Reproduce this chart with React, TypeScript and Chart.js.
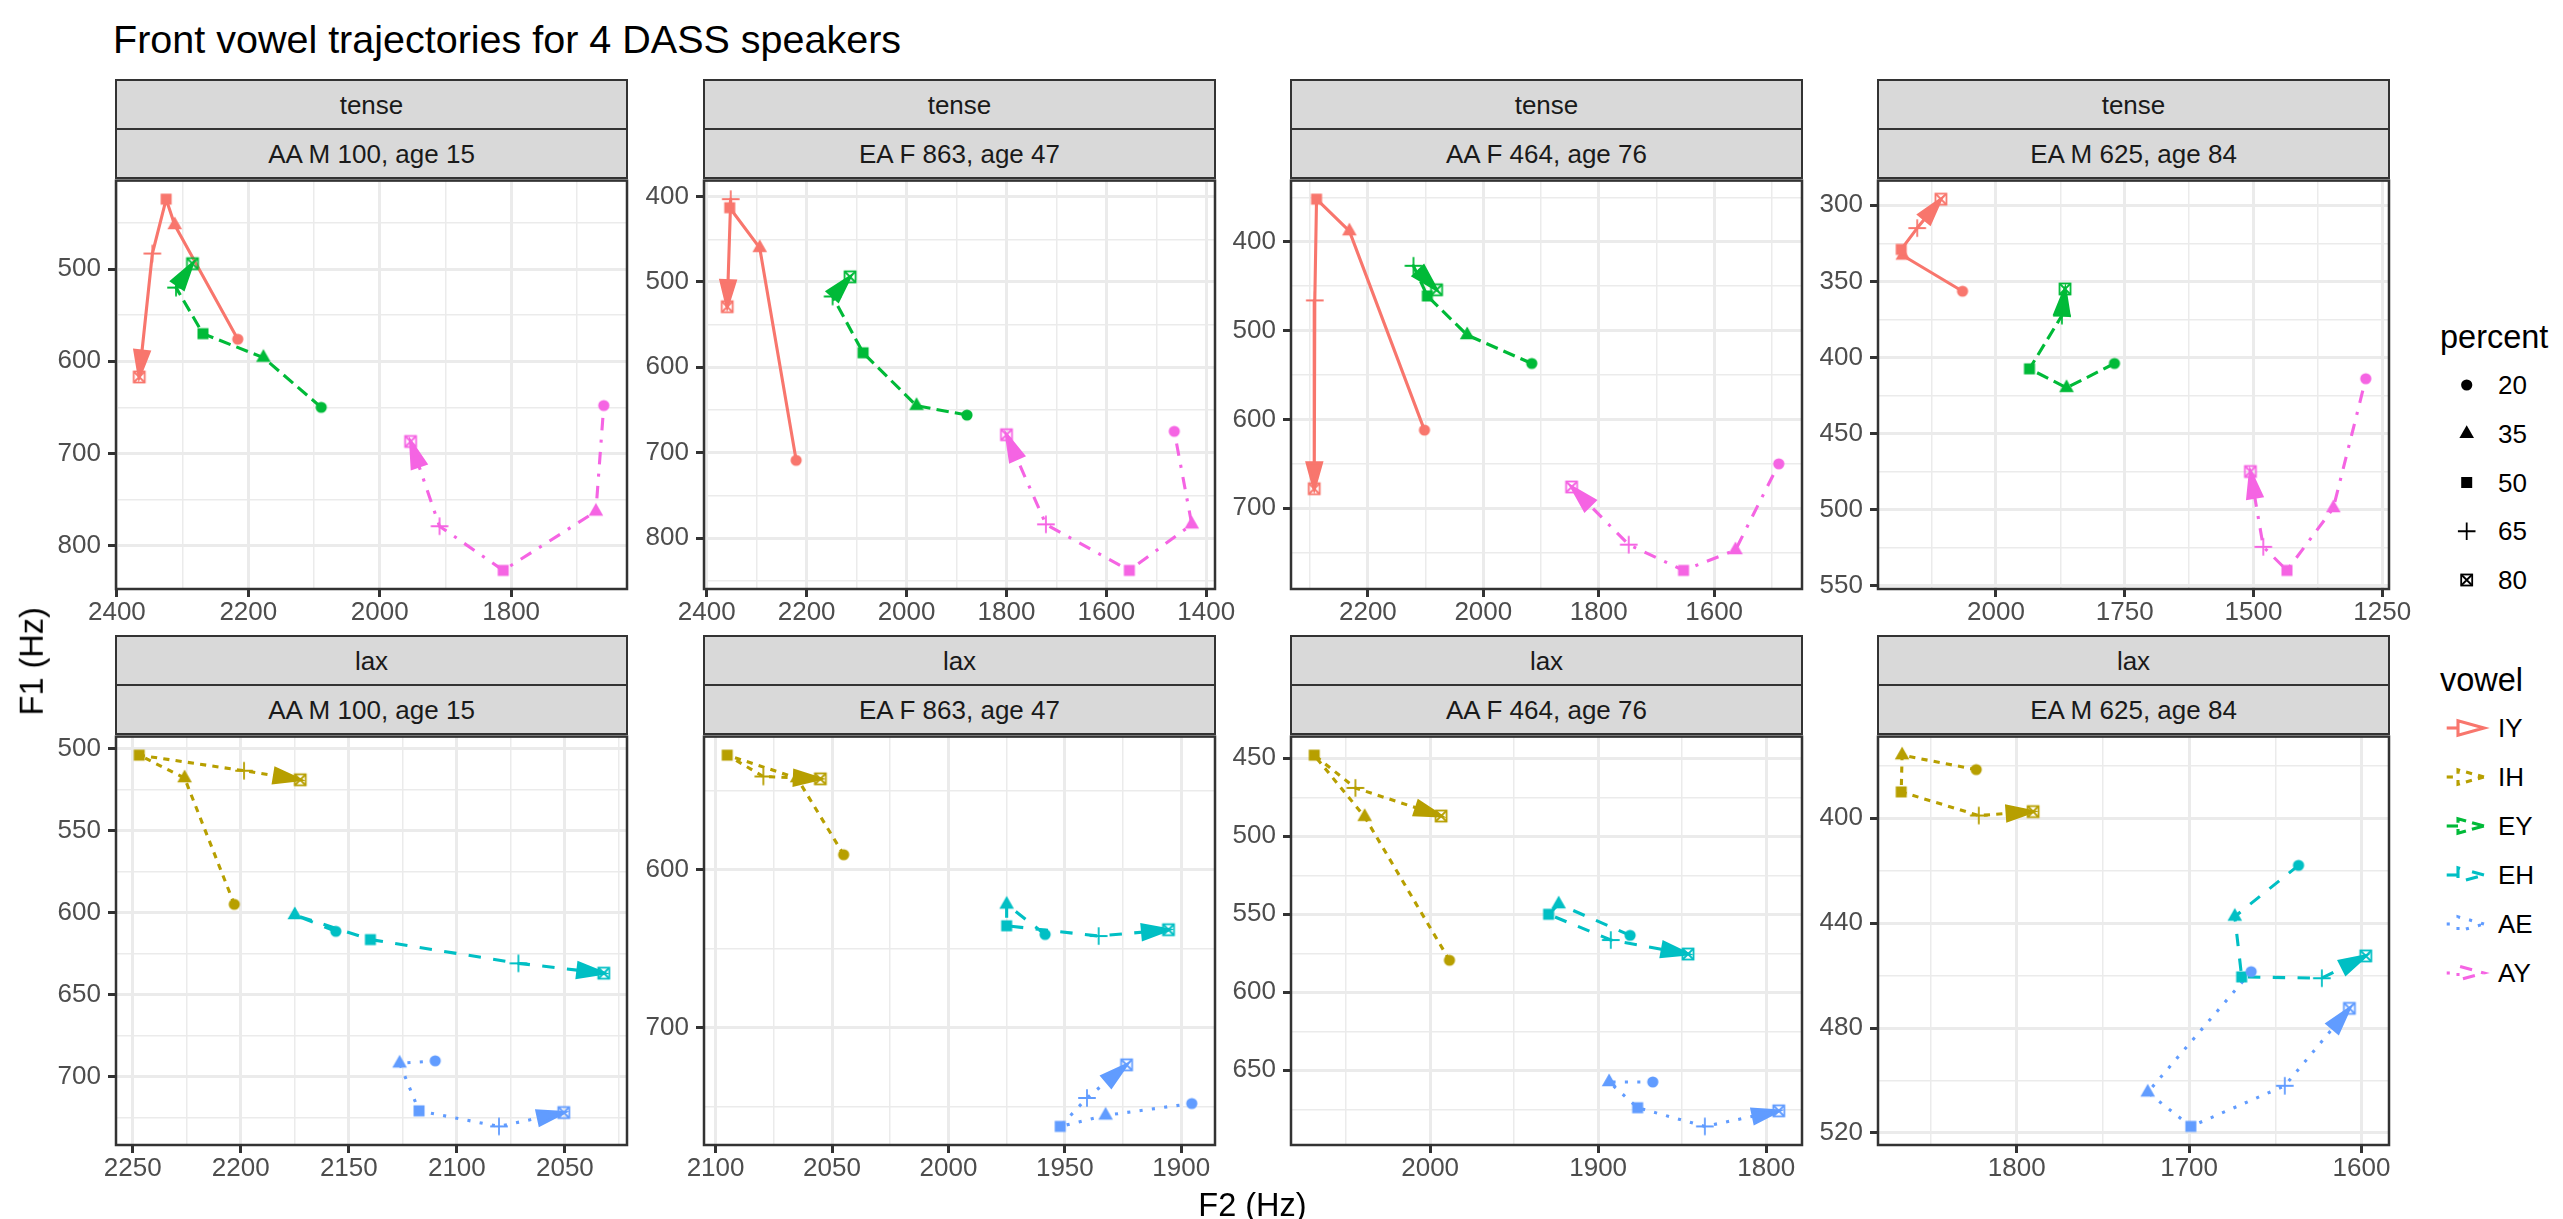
import React, { useEffect, useRef } from 'react';
import { Chart, registerables } from 'chart.js';

Chart.register(...registerables);

const FONT = "'Liberation Sans', Arial, Helvetica, sans-serif";

// ---------- data ----------
const percents = [20, 35, 50, 65, 80];
const percentShapes = ['circle', 'triangle', 'square', 'plus', 'boxX'];
const vowelOrder = ['IY', 'IH', 'EY', 'EH', 'AE', 'AY'];
const vowelColors: Record<string, string> = {
  IY: '#F8766D', IH: '#B79F00', EY: '#00BA38', EH: '#00BFC4', AE: '#619CFF', AY: '#F564E3',
};
// ggplot linetypes, in units of the line width
const vowelLinetypes: Record<string, number[]> = {
  IY: [], IH: [2, 2], EY: [4, 2], EH: [4, 4], AE: [1, 3], AY: [1, 3, 4, 3],
};
const speakers = ['AA M 100, age 15', 'EA F 863, age 47', 'AA F 464, age 76', 'EA M 625, age 84'];
const tenseVowels = ['IY', 'EY', 'AY'];
const laxVowels = ['IH', 'EH', 'AE'];

// F2 and F1 (Hz) at 20, 35, 50, 65, 80 percent
const tense_AAM100 = {
  IY: { f2: [2216, 2312, 2325, 2346, 2366], f1: [576, 452, 424, 483, 617] },
  EY: { f2: [2089, 2177, 2269, 2310, 2285], f1: [650, 596, 570, 520, 494] },
  AY: { f2: [1659, 1671, 1812, 1909, 1953], f1: [648, 763, 827, 779, 687] },
};
const tense_EAF863 = {
  IY: { f2: [2221, 2294, 2354, 2352, 2359], f1: [709, 460, 413, 403, 529] },
  EY: { f2: [1879, 1980, 2087, 2148, 2113], f1: [656, 645, 583, 517, 494] },
  AY: { f2: [1464, 1429, 1554, 1721, 1800], f1: [675, 784, 838, 784, 679] },
};
const tense_AAF464 = {
  IY: { f2: [2102, 2232, 2289, 2292, 2293], f1: [612, 388, 352, 466, 678] },
  EY: { f2: [1916, 2028, 2097, 2121, 2081], f1: [537, 505, 461, 427, 454] },
  AY: { f2: [1488, 1563, 1653, 1748, 1847], f1: [650, 747, 770, 741, 676] },
};
const tense_EAM625 = {
  IY: { f2: [2065, 2181, 2184, 2153, 2107], f1: [356.5, 333, 329, 315, 296] },
  EY: { f2: [1770, 1863, 1935, 1872, 1866], f1: [404, 420, 407.5, 372.5, 355] },
  AY: { f2: [1282, 1345, 1435, 1481, 1506], f1: [414, 499, 540, 524.5, 475] },
};
const lax_AAM100 = {
  IH: { f2: [2203, 2226, 2247, 2198.5, 2172.5], f1: [595, 518, 504, 513.5, 519] },
  EH: { f2: [2156, 2175, 2140, 2071.5, 2032], f1: [611.5, 601.5, 616.5, 631, 637] },
  AE: { f2: [2110, 2126.5, 2117.5, 2080.5, 2050.5], f1: [690.5, 692, 721, 730.5, 722] },
};
const lax_EAF863 = {
  IH: { f2: [2045, 2065, 2095, 2079.5, 2055], f1: [590.5, 542, 527.5, 541, 542.5] },
  EH: { f2: [1958.5, 1975, 1975, 1935.5, 1905.5], f1: [641, 622, 635.5, 642, 638] },
  AE: { f2: [1895.5, 1932.5, 1952, 1940.5, 1923.5], f1: [748, 755.5, 762.5, 744.5, 723.5] },
};
const lax_AAF464 = {
  IH: { f2: [1988.5, 2039, 2069, 2044.5, 1993.5], f1: [579.5, 487.5, 448, 469, 487] },
  EH: { f2: [1881, 1923.5, 1929.5, 1892.5, 1846.5], f1: [563.5, 543.5, 550, 566.5, 575.5] },
  AE: { f2: [1867.5, 1893.5, 1876.5, 1836.5, 1792.5], f1: [657.5, 657.5, 674, 686, 676] },
};
const lax_EAM625 = {
  IH: { f2: [1823.5, 1866.5, 1867, 1822, 1790.5], f1: [381.5, 376, 390, 399, 397.5] },
  EH: { f2: [1636.5, 1673.5, 1669.5, 1623, 1597.5], f1: [418, 437.5, 460.5, 461, 452.5] },
  AE: { f2: [1664, 1724, 1699, 1644.5, 1607], f1: [458.5, 504.5, 517.5, 502, 472.5] },
};

// tick labels (major breaks)
const xTicks_tense_AAM100 = [2400, 2200, 2000, 1800];
const yTicks_tense_AAM100 = [500, 600, 700, 800];
const xTicks_tense_EAF863 = [2400, 2200, 2000, 1800, 1600, 1400];
const yTicks_tense_EAF863 = [400, 500, 600, 700, 800];
const xTicks_tense_AAF464 = [2200, 2000, 1800, 1600];
const yTicks_tense_AAF464 = [400, 500, 600, 700];
const xTicks_tense_EAM625 = [2000, 1750, 1500, 1250];
const yTicks_tense_EAM625 = [300, 350, 400, 450, 500, 550];
const xTicks_lax_AAM100 = [2250, 2200, 2150, 2100, 2050];
const yTicks_lax_AAM100 = [500, 550, 600, 650, 700];
const xTicks_lax_EAF863 = [2100, 2050, 2000, 1950, 1900];
const yTicks_lax_EAF863 = [600, 700];
const xTicks_lax_AAF464 = [2000, 1900, 1800];
const yTicks_lax_AAF464 = [450, 500, 550, 600, 650];
const xTicks_lax_EAM625 = [1800, 1700, 1600];
const yTicks_lax_EAM625 = [400, 440, 480, 520];

type VData = Record<string, { f2: number[]; f1: number[] }>;
interface PanelDef {
  row: number; col: number; group: string; speaker: string; vowels: string[];
  data: VData; xTicks: number[]; yTicks: number[];
}
const panels: PanelDef[] = [
  { row: 0, col: 0, group: 'tense', speaker: speakers[0], vowels: tenseVowels, data: tense_AAM100, xTicks: xTicks_tense_AAM100, yTicks: yTicks_tense_AAM100 },
  { row: 0, col: 1, group: 'tense', speaker: speakers[1], vowels: tenseVowels, data: tense_EAF863, xTicks: xTicks_tense_EAF863, yTicks: yTicks_tense_EAF863 },
  { row: 0, col: 2, group: 'tense', speaker: speakers[2], vowels: tenseVowels, data: tense_AAF464, xTicks: xTicks_tense_AAF464, yTicks: yTicks_tense_AAF464 },
  { row: 0, col: 3, group: 'tense', speaker: speakers[3], vowels: tenseVowels, data: tense_EAM625, xTicks: xTicks_tense_EAM625, yTicks: yTicks_tense_EAM625 },
  { row: 1, col: 0, group: 'lax', speaker: speakers[0], vowels: laxVowels, data: lax_AAM100, xTicks: xTicks_lax_AAM100, yTicks: yTicks_lax_AAM100 },
  { row: 1, col: 1, group: 'lax', speaker: speakers[1], vowels: laxVowels, data: lax_EAF863, xTicks: xTicks_lax_EAF863, yTicks: yTicks_lax_EAF863 },
  { row: 1, col: 2, group: 'lax', speaker: speakers[2], vowels: laxVowels, data: lax_AAF464, xTicks: xTicks_lax_AAF464, yTicks: yTicks_lax_AAF464 },
  { row: 1, col: 3, group: 'lax', speaker: speakers[3], vowels: laxVowels, data: lax_EAM625, xTicks: xTicks_lax_EAM625, yTicks: yTicks_lax_EAM625 },
];

// ---------- layout ----------
const COL_LEFT = [116, 704, 1291, 1878];
const PLOT_W = 511;
const ROW_TOP = [178, 734];
const PLOT_H = 411;
const STRIP_H = 49;
const CL = 90, CT = 20, CR = 45, CB = 55; // canvas margins around plot area
const LINE_W = 3.1;
const ARROW_LEN = 26, ARROW_HW = 7.2;

function withMinor(majors: number[], lo: number, hi: number): number[] {
  const s = [...majors].sort((a, b) => a - b);
  const out = new Set<number>(s);
  const step = s.length > 1 ? s[1] - s[0] : 0;
  for (let i = 0; i < s.length - 1; i++) out.add((s[i] + s[i + 1]) / 2);
  if (step) { out.add(s[0] - step / 2); out.add(s[s.length - 1] + step / 2); }
  return [...out].filter(v => v >= lo && v <= hi).sort((a, b) => a - b);
}

function drawShape(g: CanvasRenderingContext2D, shape: string) {
  switch (shape) {
    case 'circle':
      g.beginPath(); g.arc(0, 0, 5.6, 0, Math.PI * 2); g.fill(); break;
    case 'triangle': {
      const s = 5.42;
      g.beginPath(); g.moveTo(0, -1.555 * s); g.lineTo(1.347 * s, 0.778 * s); g.lineTo(-1.347 * s, 0.778 * s); g.closePath(); g.fill(); break;
    }
    case 'square':
      g.fillRect(-5.5, -5.5, 11, 11); break;
    case 'plus':
      g.lineWidth = 1.8; g.beginPath(); g.moveTo(-8.8, 0); g.lineTo(8.8, 0); g.moveTo(0, -8.8); g.lineTo(0, 8.8); g.stroke(); break;
    case 'boxX':
      g.lineWidth = 1.8; g.strokeRect(-5.5, -5.5, 11, 11);
      g.beginPath(); g.moveTo(-5.5, -5.5); g.lineTo(5.5, 5.5); g.moveTo(5.5, -5.5); g.lineTo(-5.5, 5.5); g.stroke(); break;
  }
}

function makeMarker(shape: string, color: string): HTMLCanvasElement {
  const c = document.createElement('canvas');
  c.width = 26; c.height = 26;
  const g = c.getContext('2d')!;
  g.translate(13, 13);
  g.fillStyle = color; g.strokeStyle = color;
  drawShape(g, shape);
  return c;
}

const arrowPlugin = {
  id: 'arrowHeads',
  afterDatasetDraw(chart: any, args: any) {
    const ds = chart.data.datasets[args.index];
    if (!ds.arrowHead) return;
    const pts = args.meta.data;
    const n = pts.length;
    if (n < 2) return;
    const x1 = pts[n - 2].x, y1 = pts[n - 2].y, x2 = pts[n - 1].x, y2 = pts[n - 1].y;
    const len = Math.hypot(x2 - x1, y2 - y1) || 1;
    const ux = (x2 - x1) / len, uy = (y2 - y1) / len;
    const bx = x2 - ux * ARROW_LEN, by = y2 - uy * ARROW_LEN;
    const ctx = chart.ctx;
    ctx.save();
    ctx.fillStyle = ds.borderColor; ctx.strokeStyle = ds.borderColor;
    ctx.lineWidth = LINE_W; ctx.lineJoin = 'miter'; ctx.miterLimit = 10; ctx.setLineDash([]);
    ctx.beginPath();
    ctx.moveTo(x2, y2);
    ctx.lineTo(bx - uy * ARROW_HW, by + ux * ARROW_HW);
    ctx.lineTo(bx + uy * ARROW_HW, by - ux * ARROW_HW);
    ctx.closePath();
    ctx.fill(); ctx.stroke();
    ctx.restore();
  },
};

const borderPlugin = {
  id: 'panelBorder',
  afterDraw(chart: any) {
    const { left, top, right, bottom } = chart.chartArea;
    const ctx = chart.ctx;
    ctx.save();
    ctx.strokeStyle = '#333333'; ctx.lineWidth = 2.5;
    ctx.strokeRect(left, top, right - left, bottom - top);
    ctx.restore();
  },
};

function Panel({ def }: { def: PanelDef }) {
  const ref = useRef<HTMLCanvasElement>(null);
  useEffect(() => {
    const canvas = ref.current!;
    const allX: number[] = [], allY: number[] = [];
    def.vowels.forEach(v => { allX.push(...def.data[v].f2); allY.push(...def.data[v].f1); });
    const xMin0 = Math.min(...allX), xMax0 = Math.max(...allX);
    const yMin0 = Math.min(...allY), yMax0 = Math.max(...allY);
    const xPad = (xMax0 - xMin0) * 0.05, yPad = (yMax0 - yMin0) * 0.05;
    const xMin = xMin0 - xPad, xMax = xMax0 + xPad, yMin = yMin0 - yPad, yMax = yMax0 + yPad;
    const xAll = withMinor(def.xTicks, xMin, xMax);
    const yAll = withMinor(def.yTicks, yMin, yMax);
    const xMaj = new Set(def.xTicks), yMaj = new Set(def.yTicks);

    const datasets: any[] = [];
    def.vowels.forEach((v, vi) => {
      const d = def.data[v];
      const pts = d.f2.map((x, i) => ({ x, y: d.f1[i] }));
      datasets.push({
        label: v + ' path', data: pts, showLine: true, arrowHead: true,
        borderColor: vowelColors[v], borderWidth: LINE_W,
        borderDash: vowelLinetypes[v].map(k => k * LINE_W),
        borderCapStyle: 'butt', borderJoinStyle: 'round',
        pointRadius: 0, pointHoverRadius: 0, fill: false, tension: 0, clip: false,
        order: 20 - vi,
      });
    });
    def.vowels.forEach((v, vi) => {
      const d = def.data[v];
      const pts = d.f2.map((x, i) => ({ x, y: d.f1[i] }));
      datasets.push({
        label: v, data: pts, showLine: false,
        pointStyle: percentShapes.map(s => makeMarker(s, vowelColors[v])),
        pointRadius: 6, pointHoverRadius: 6, pointBorderWidth: 0, clip: false,
        order: 10 - vi,
      });
    });

    const tickFont = { family: FONT, size: 26 };
    const chart = new Chart(canvas, {
      type: 'scatter',
      data: { datasets },
      options: {
        responsive: false, animation: false, devicePixelRatio: 1, events: [],
        layout: { padding: { top: CT, right: CR, left: 0, bottom: 0 }, autoPadding: false },
        plugins: { legend: { display: false }, tooltip: { enabled: false } },
        scales: {
          x: {
            type: 'linear', reverse: true, min: xMin, max: xMax,
            afterBuildTicks: (s: any) => { s.ticks = xAll.map(value => ({ value })); },
            afterFit: (s: any) => { s.height = CB; },
            ticks: {
              autoSkip: false, maxRotation: 0, minRotation: 0, padding: 0,
              font: tickFont, color: '#4D4D4D',
              callback: (val: any) => (xMaj.has(Number(val)) ? String(val) : ''),
            },
            grid: {
              color: '#EBEBEB',
              lineWidth: (c: any) => (xMaj.has(c.tick?.value) ? 3 : 1.5),
              tickColor: (c: any) => (xMaj.has(c.tick?.value) ? '#333333' : 'rgba(0,0,0,0)'),
              tickWidth: 3, tickLength: 8, drawTicks: true,
            },
            border: { display: false },
          },
          y: {
            type: 'linear', reverse: true, min: yMin, max: yMax,
            afterBuildTicks: (s: any) => { s.ticks = yAll.map(value => ({ value })); },
            afterFit: (s: any) => { s.width = CL; },
            ticks: {
              autoSkip: false, padding: 7,
              font: tickFont, color: '#4D4D4D',
              callback: (val: any) => (yMaj.has(Number(val)) ? String(val) : ''),
            },
            grid: {
              color: '#EBEBEB',
              lineWidth: (c: any) => (yMaj.has(c.tick?.value) ? 3 : 1.5),
              tickColor: (c: any) => (yMaj.has(c.tick?.value) ? '#333333' : 'rgba(0,0,0,0)'),
              tickWidth: 3, tickLength: 8, drawTicks: true,
            },
            border: { display: false },
          },
        },
      } as any,
      plugins: [arrowPlugin, borderPlugin],
    });
    return () => chart.destroy();
  }, [def]);

  const left = COL_LEFT[def.col] - CL;
  const top = ROW_TOP[def.row] - CT;
  const w = CL + PLOT_W + CR, h = CT + PLOT_H + CB;
  return (
    <canvas ref={ref} width={w} height={h}
      style={{ position: 'absolute', left, top, width: w, height: h }} />
  );
}

function Strip({ x, y, text }: { x: number; y: number; text: string }) {
  return (
    <div style={{
      position: 'absolute', left: x - 1, top: y - 1, width: PLOT_W + 2, height: STRIP_H + 2,
      boxSizing: 'border-box', border: '2px solid #333333', background: '#D9D9D9',
      display: 'flex', alignItems: 'center', justifyContent: 'center',
      fontFamily: FONT, fontSize: 26, lineHeight: '26px', color: '#1A1A1A', whiteSpace: 'nowrap',
    }}>{text}</div>
  );
}

function svgShape(shape: string, cx: number, cy: number, color: string, key: string) {
  switch (shape) {
    case 'circle': return <circle key={key} cx={cx} cy={cy} r={5.6} fill={color} />;
    case 'triangle': {
      const s = 5.42;
      return <polygon key={key} fill={color}
        points={`${cx},${cy - 1.555 * s} ${cx + 1.347 * s},${cy + 0.778 * s} ${cx - 1.347 * s},${cy + 0.778 * s}`} />;
    }
    case 'square': return <rect key={key} x={cx - 5.5} y={cy - 5.5} width={11} height={11} fill={color} />;
    case 'plus': return (
      <path key={key} d={`M${cx - 8.8},${cy}H${cx + 8.8}M${cx},${cy - 8.8}V${cy + 8.8}`} stroke={color} strokeWidth={1.8} fill="none" />
    );
    default: return (
      <g key={key} stroke={color} strokeWidth={1.8} fill="none">
        <rect x={cx - 5.5} y={cy - 5.5} width={11} height={11} />
        <path d={`M${cx - 5.5},${cy - 5.5}L${cx + 5.5},${cy + 5.5}M${cx + 5.5},${cy - 5.5}L${cx - 5.5},${cy + 5.5}`} />
      </g>
    );
  }
}

const textStyle = (size: number): React.CSSProperties => ({
  position: 'absolute', fontFamily: FONT, fontSize: size, lineHeight: `${size}px`,
  color: '#000000', whiteSpace: 'nowrap',
});

export default function App() {
  const pctY = (i: number) => 385 + 48.75 * i;
  const vowY = (i: number) => 728 + 49 * i;
  const plotCenterX = (COL_LEFT[0] + COL_LEFT[3] + PLOT_W) / 2;
  const plotCenterY = (ROW_TOP[0] + ROW_TOP[1] + PLOT_H) / 2;
  return (
    <div style={{ position: 'absolute', left: 0, top: 0, width: 2563, height: 1219, background: '#FFFFFF', overflow: 'hidden' }}>
      <div style={{ ...textStyle(39.5), left: 113, top: 40 - 19.75 }}>Front vowel trajectories for 4 DASS speakers</div>

      {panels.map((p, i) => (
        <React.Fragment key={i}>
          <Strip x={COL_LEFT[p.col]} y={ROW_TOP[p.row] - 2 * STRIP_H} text={p.group} />
          <Strip x={COL_LEFT[p.col]} y={ROW_TOP[p.row] - STRIP_H} text={p.speaker} />
          <Panel def={p} />
        </React.Fragment>
      ))}

      <div style={{ ...textStyle(32.5), left: 32 - 100, top: plotCenterY - 16.25, width: 200, textAlign: 'center', transform: 'rotate(-90deg)' }}>F1 (Hz)</div>
      <div style={{ ...textStyle(32.5), left: plotCenterX - 100, top: 1205 - 16.25, width: 200, textAlign: 'center' }}>F2 (Hz)</div>

      {/* legends */}
      <div style={{ ...textStyle(32.5), left: 2440, top: 337 - 16.25 }}>percent</div>
      {percents.map((p, i) => (
        <div key={'pl' + p} style={{ ...textStyle(26), left: 2498, top: pctY(i) - 13 }}>{p}</div>
      ))}
      <div style={{ ...textStyle(32.5), left: 2440, top: 680 - 16.25 }}>vowel</div>
      {vowelOrder.map((v, i) => (
        <div key={'vl' + v} style={{ ...textStyle(26), left: 2498, top: vowY(i) - 13 }}>{v}</div>
      ))}
      <svg style={{ position: 'absolute', left: 0, top: 0 }} width={2563} height={1219}>
        {percentShapes.map((s, i) => svgShape(s, 2466.7, pctY(i), '#000000', 'ps' + i))}
        {vowelOrder.map((v, i) => {
          const y = vowY(i);
          const dash = vowelLinetypes[v].map(k => k * LINE_W).join(' ');
          const tip = 2484, base = 2458;
          return (
            <g key={'va' + v} stroke={vowelColors[v]} strokeWidth={LINE_W} strokeDasharray={dash || undefined}>
              <line x1={2446.7} y1={y} x2={base} y2={y} />
              <polygon points={`${tip},${y} ${base},${y - ARROW_HW} ${base},${y + ARROW_HW}`}
                fill="none" strokeLinejoin="miter" strokeMiterlimit={10} />
            </g>
          );
        })}
      </svg>
    </div>
  );
}
